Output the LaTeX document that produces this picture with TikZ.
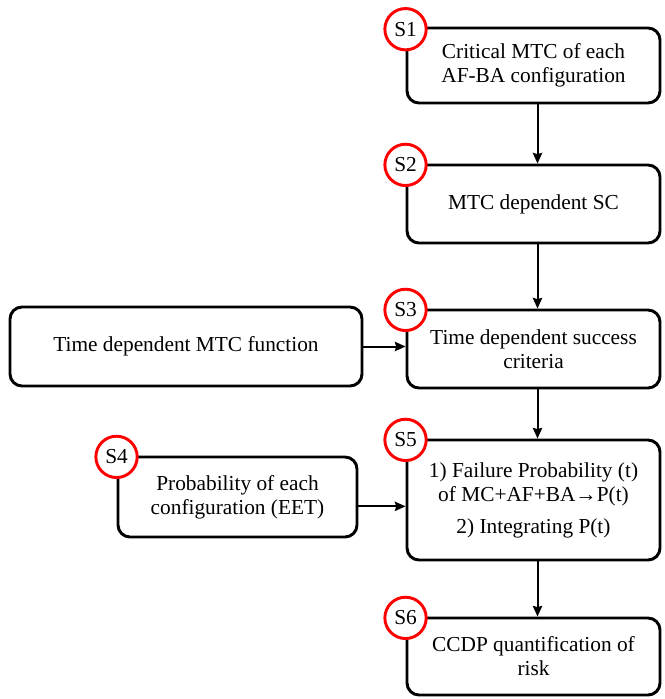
\documentclass[tikz,border=0pt]{standalone}
\usepackage{fontspec}
\setmainfont{Liberation Serif}
\usetikzlibrary{arrows.meta}

\begin{document}
\begin{tikzpicture}[x=0.75pt,y=-0.75pt,>={Stealth[length=8pt,width=7pt,inset=1pt]},
  stepbox/.style={draw,line width=2.2pt,rounded corners=9pt,align=center,
    font=\fontsize{16}{18}\selectfont,inner sep=2pt},
  stepmark/.style={circle,draw=red,fill=white,line width=2.2pt,minimum size=31pt,
    inner sep=0pt,font=\fontsize{16}{18}\selectfont}]
  \useasboundingbox (0,0) rectangle (664,699);
  \node[stepbox,minimum width=189.75pt,minimum height=56.25pt] (s1) at (533.5,65.5)
    {Critical MTC of each\\AF-BA configuration};
  \node[stepbox,minimum width=189.75pt,minimum height=58.5pt]  (s2) at (533.5,204)
    {MTC dependent SC};
  \node[stepbox,minimum width=189.75pt,minimum height=58.5pt]  (s3) at (533.5,349)
    {Time dependent success\\criteria};
  \node[stepbox,minimum width=264pt,minimum height=59.25pt]    (mtc) at (186,346.5)
    {Time dependent MTC function};
  \node[stepbox,minimum width=179.25pt,minimum height=60pt]    (s4) at (237.5,497)
    {Probability of each\\configuration (EET)};
  \node[stepbox,minimum width=189.75pt,minimum height=90pt]    (s5) at (533.5,500)
    {1) Failure Probability (t)\\of MC+AF+BA→P(t)\\[6pt]2) Integrating P(t)};
  \node[stepbox,minimum width=189.75pt,minimum height=57.75pt] (s6) at (533.5,656.5)
    {CCDP quantification of\\risk};
  \node[stepmark] (c1) at ([yshift=-2pt]s1.north west) {S1};
  \node[stepmark] (c2) at ([yshift=-1pt]s2.north west) {S2};
  \node[stepmark] (c3) at ([yshift=-1pt]s3.north west) {S3};
  \node[stepmark] (c4) at ([yshift=-1pt]s4.north west) {S4};
  \node[stepmark] (c5) at ([yshift=-1pt]s5.north west) {S5};
  \node[stepmark] (c6) at ([yshift=-1pt]s6.north west) {S6};
  \path[line width=1.5pt]
    ([xshift=3pt]s1.south) edge [->] ([xshift=3pt]s2.north)
    ([xshift=3pt]s2.south) edge [->] ([xshift=3pt]s3.north)
    ([xshift=3pt]s3.south) edge [->] ([xshift=3pt]s5.north)
    ([xshift=3pt]s5.south) edge [->] ([xshift=3pt]s6.north)
    (mtc.east) edge [->] (mtc.east -| s3.west)
%    (s4) edge [->] (s5)
    ([yshift=-7pt]s4.east) edge [->] ([yshift=-7pt]s4.east -| s5.west);
\end{tikzpicture}
\end{document}
